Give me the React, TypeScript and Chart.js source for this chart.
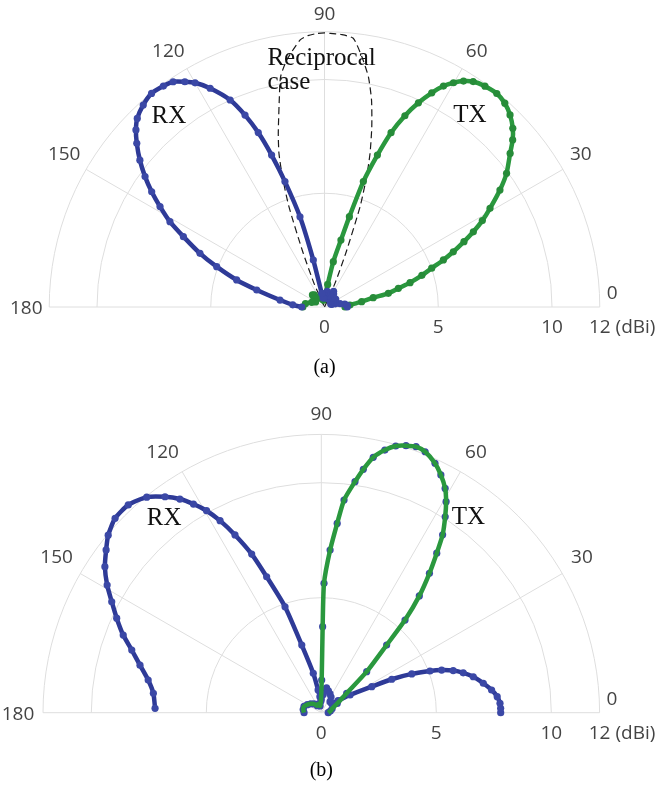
import React, { useEffect, useRef } from 'react';
import { Chart, registerables } from 'chart.js';

Chart.register(...registerables);

// ---------- data: (a) ----------
const rxA_angle = [0, 4, 8, 12, 16, 20, 25, 30, 35, 40, 45, 50, 55, 60, 65, 70, 75, 80, 85, 90, 95, 99, 101.5, 103.4, 105.2, 107.5, 109.2, 110.8, 112.5, 114.5, 117.6, 120.0, 121.8, 123.9, 126.1, 129.0, 131.9, 134.8, 136.8, 138.9, 141.5, 144.0, 146.3, 148.6, 151.1, 153.5, 156.7, 159.5, 162.9, 165.9, 171.1, 176, 180];
const rxA_gain = [1.0, 1.0, 0.9, 0.7, 0.5, 0.35, 0.3, 0.45, 0.6, 0.5, 0.35, 0.5, 0.7, 0.8, 0.6, 0.4, 0.5, 0.7, 0.6, 0.5, 0.4, 0.4, 0.61, 2.12, 4.11, 5.78, 7.07, 8.20, 9.13, 10.0, 10.85, 11.38, 11.65, 11.93, 12.02, 12.08, 11.93, 11.68, 11.37, 10.95, 10.37, 9.75, 9.13, 8.47, 7.76, 6.93, 5.96, 5.06, 4.04, 3.07, 1.98, 1.4, 1.0];

const txA_angle = [0, 4.5, 8.1, 10.8, 12.1, 14.2, 15.9, 18, 19.9, 21.6, 23.2, 25.1, 26.8, 28.7, 30.8, 33.7, 36.3, 39.6, 41.6, 43.5, 46.0, 48.5, 51.1, 54.0, 56.6, 58.4, 60.1, 61.7, 63.4, 65.3, 67.2, 69.1, 70.8, 72.8, 74.6, 76.2, 79.0, 82, 85, 90, 95, 100, 110, 120, 130, 135, 140, 150, 160, 170, 180];
const txA_gain = [0.9, 1.12, 1.65, 2.18, 2.87, 3.35, 3.91, 4.5, 5.01, 5.62, 6.16, 6.77, 7.33, 7.91, 8.47, 9.27, 9.93, 10.59, 11.06, 11.41, 11.74, 11.96, 12.06, 12.0, 11.87, 11.66, 11.37, 11.03, 10.53, 9.88, 9.12, 8.20, 7.07, 5.77, 4.12, 3.03, 2.03, 1.0, 0.6, 0.4, 0.35, 0.3, 0.4, 0.5, 0.7, 0.75, 0.6, 0.45, 0.6, 0.85, 0.95];

const recipA_angle = [66, 66, 68.5, 70.5, 72.1, 73.5, 75.3, 77.2, 79.2, 81.5, 83.9, 86.5, 88.8, 90, 91.5, 93.5, 95.2, 98.7, 100.8, 102.1, 104.9, 106.5, 107.9, 109.5, 111.5, 114, 114];
const recipA_gain = [0, 1.1, 2.6, 4.7, 6.02, 7.05, 8.19, 9.33, 10.3, 11.12, 11.88, 12.0, 12.03, 12.05, 12.03, 11.95, 11.79, 10.98, 10.3, 9.46, 7.9, 7.05, 6.02, 4.7, 2.6, 1.1, 0];

// ---------- data: (b) ----------
const rxB_angle = [0, 1.4, 3.0, 5.2, 7.6, 10.3, 13.3, 15.7, 17.7, 19.5, 21.0, 23.2, 25.4, 27.3, 31.7, 36, 42, 51.7, 58, 65, 72, 78, 84, 90, 95, 98, 101.5, 106.1, 108.9, 111.9, 113.7, 115.9, 117.8, 119.6, 121.5, 123.5, 125.9, 129.0, 132.9, 136.7, 140.2, 142.9, 146.0, 149.2, 152.1, 155.2, 158.6, 161.7, 165.3, 169.3, 173.4, 178.5];
const rxB_gain = [7.8, 7.8, 7.78, 7.68, 7.47, 7.16, 6.79, 6.41, 6.02, 5.55, 5.06, 4.28, 3.39, 2.47, 1.47, 0.9, 0.6, 0.61, 0.8, 0.9, 1.0, 1.1, 0.8, 0.6, 0.7, 1.0, 1.75, 3.06, 4.87, 6.37, 7.53, 8.59, 9.44, 10.1, 10.64, 11.14, 11.59, 12.06, 12.33, 12.32, 12.06, 11.73, 11.35, 10.84, 10.31, 9.80, 9.25, 8.68, 8.15, 7.66, 7.35, 7.23];

const txB_angle = [0, 10, 20, 30, 37.4, 42.1, 46.0, 47.9, 50.0, 52.2, 54.1, 55.7, 57.7, 59.4, 61.1, 63.3, 65.5, 68.3, 70.4, 72.4, 74.4, 76.4, 78.5, 80.2, 81.7, 83.9, 85.2, 86.9, 88.8, 89.1, 89.3, 92, 100, 110, 120, 130, 140, 150, 160, 170, 180];
const txB_gain = [0.3, 0.4, 0.5, 0.8, 1.39, 2.66, 4.09, 5.43, 6.63, 7.67, 8.56, 9.36, 10.08, 10.66, 11.14, 11.57, 11.92, 12.21, 12.28, 12.18, 12.04, 11.75, 11.33, 10.74, 10.15, 9.30, 8.26, 7.08, 5.63, 3.74, 1.42, 0.5, 0.3, 0.4, 0.35, 0.5, 0.6, 0.7, 0.8, 0.8, 0.75];

// ---------- axes ----------
const R_MAX = 12.1;
const RING_VALUES = [5, 10, R_MAX];
const RADIAL_TICKS = [0, 5, 10];
const RADIAL_OUTER_LABEL = '12 (dBi)';
const ANGLE_TICKS = [0, 30, 60, 90, 120, 150, 180];

const RX_LINE = '#2e3a97';
const RX_POINT = '#3b48a6';
const TX_LINE = '#2a983e';
const TX_POINT = '#278c39';
const GRID = '#dedede';
const TICK = '#444444';

const toPts = (ang: number[], gain: number[]) =>
  ang.map((a, i) => ({
    x: gain[i] * Math.cos((a * Math.PI) / 180),
    y: gain[i] * Math.sin((a * Math.PI) / 180),
  }));

const LABEL_NUDGE: Record<number, [number, number]> = {
  120: [-7, 3],
  60: [3, 3],
  150: [-2, -3],
  30: [-2, -3],
  180: [0, 2],
};

type Note = { text: string; x: number; y: number };

function makePlugin(notes: Note[], caption: string, captionDy: number, labelGap: number) {
  return {
    id: 'halfPolar',
    beforeDatasetsDraw(chart: any) {
      const ctx = chart.ctx as CanvasRenderingContext2D;
      const xs = chart.scales.x;
      const ys = chart.scales.y;
      const cx = xs.getPixelForValue(0);
      const cy = ys.getPixelForValue(0);
      const rp = (v: number) => xs.getPixelForValue(v) - cx;
      const R = rp(R_MAX);
      ctx.save();
      ctx.strokeStyle = GRID;
      ctx.lineWidth = 1;
      RING_VALUES.forEach((v) => {
        ctx.beginPath();
        ctx.arc(cx, cy, rp(v), Math.PI, 2 * Math.PI);
        ctx.stroke();
      });
      ctx.beginPath();
      ctx.moveTo(cx - R, cy);
      ctx.lineTo(cx + R, cy);
      ctx.stroke();
      ANGLE_TICKS.forEach((a) => {
        if (a === 0 || a === 180) return;
        const t = (a * Math.PI) / 180;
        ctx.beginPath();
        ctx.moveTo(cx, cy);
        ctx.lineTo(cx + R * Math.cos(t), cy - R * Math.sin(t));
        ctx.stroke();
      });
      ctx.fillStyle = TICK;
      ctx.font = '19px "Open Sans"';
      ctx.textBaseline = 'middle';
      ANGLE_TICKS.forEach((a) => {
        if (a === 0) {
          ctx.textAlign = 'left';
          ctx.fillText('0', cx + R + 7, cy - 13);
          return;
        }
        ctx.textAlign = 'center';
        const t = (a * Math.PI) / 180;
        const d = a === 90 ? labelGap - 5.5 : labelGap;
        const n = LABEL_NUDGE[a] || [0, 0];
        ctx.fillText(String(a), cx + (R + d) * Math.cos(t) + n[0], cy - (R + d) * Math.sin(t) + n[1]);
      });
      ctx.textAlign = 'center';
      RADIAL_TICKS.forEach((v) => {
        ctx.fillText(String(v), cx + rp(v), cy + 21);
      });
      const w12 = ctx.measureText('12').width;
      ctx.textAlign = 'left';
      ctx.fillText(RADIAL_OUTER_LABEL, cx + R - w12 / 2, cy + 21);
      ctx.restore();
    },
    afterDatasetsDraw(chart: any) {
      const ctx = chart.ctx as CanvasRenderingContext2D;
      const xs = chart.scales.x;
      const ys = chart.scales.y;
      ctx.save();
      ctx.fillStyle = '#111111';
      ctx.font = '25px "Liberation Serif", "Times New Roman", serif';
      ctx.textAlign = 'left';
      ctx.textBaseline = 'alphabetic';
      notes.forEach((n) => {
        ctx.fillText(n.text, xs.getPixelForValue(n.x), ys.getPixelForValue(n.y));
      });
      ctx.font = '20px "Liberation Serif", "Times New Roman", serif';
      ctx.textAlign = 'center';
      ctx.textBaseline = 'middle';
      ctx.fillStyle = '#000000';
      ctx.fillText(caption, xs.getPixelForValue(0), ys.getPixelForValue(0) + captionDy);
      ctx.restore();
    },
  };
}

const lineDs = (pts: any[], line: string, point: string, extra: any = {}) => ({
  data: pts,
  showLine: true,
  borderColor: line,
  borderWidth: 4.5,
  pointRadius: 3.6,
  pointBackgroundColor: point,
  pointBorderWidth: 0,
  pointHoverRadius: 0,
  tension: 0.2,
  clip: false,
  ...extra,
});

type PlotProps = {
  top: number;
  height: number;
  cx: number;
  cy: number;
  scale: number;
  datasets: any[];
  notes: Note[];
  caption: string;
  captionDy: number;
  labelGap: number;
};

function PolarPlot(p: PlotProps) {
  const ref = useRef<HTMLCanvasElement | null>(null);
  useEffect(() => {
    if (!ref.current) return;
    const Rpx = R_MAX * p.scale;
    const chart = new Chart(ref.current, {
      type: 'scatter',
      data: { datasets: p.datasets },
      options: {
        animation: false,
        responsive: false,
        maintainAspectRatio: false,
        devicePixelRatio: 1,
        events: [],
        layout: {
          padding: {
            left: p.cx - Rpx,
            right: 657 - (p.cx + Rpx),
            top: p.cy - Rpx,
            bottom: p.height - p.cy,
          },
        },
        plugins: { legend: { display: false }, tooltip: { enabled: false } },
        scales: {
          x: { type: 'linear', min: -R_MAX, max: R_MAX, display: false },
          y: { type: 'linear', min: 0, max: R_MAX, display: false },
        },
      } as any,
      plugins: [makePlugin(p.notes, p.caption, p.captionDy, p.labelGap)],
    });
    return () => chart.destroy();
  }, []);
  return (
    <canvas
      ref={ref}
      width={657}
      height={p.height}
      style={{ position: 'absolute', left: 0, top: p.top, width: 657, height: p.height, display: 'block' }}
    />
  );
}

export default function App() {
  const dsA = [
    lineDs(toPts(rxA_angle, rxA_gain), RX_LINE, RX_POINT),
    lineDs(toPts(txA_angle, txA_gain), TX_LINE, TX_POINT),
    {
      data: toPts(recipA_angle, recipA_gain),
      showLine: true,
      borderColor: '#1a1a1a',
      borderWidth: 1.2,
      borderDash: [7, 4],
      pointRadius: 0,
      tension: 0.2,
      clip: false,
    },
  ];
  const dsB = [
    lineDs(toPts(txB_angle, txB_gain), TX_LINE, TX_LINE, { pointRadius: 0 }),
    lineDs(toPts(txB_angle, txB_gain), 'rgba(0,0,0,0)', RX_POINT, { showLine: false, pointRadius: 3.6 }),
    lineDs(toPts(rxB_angle, rxB_gain), RX_LINE, RX_POINT),
  ];
  const notesA: Note[] = [
    { text: 'RX', x: -7.6, y: 8.1 },
    { text: 'TX', x: 5.66, y: 8.15 },
    { text: 'Reciprocal', x: -2.51, y: 10.64 },
    { text: 'case', x: -2.51, y: 9.58 },
  ];
  const notesB: Note[] = [
    { text: 'RX', x: -7.59, y: 8.16 },
    { text: 'TX', x: 5.67, y: 8.2 },
  ];
  return (
    <div style={{ position: 'absolute', left: 0, top: 0, width: 657, height: 793, background: '#ffffff', overflow: 'hidden' }}>
      <PolarPlot top={0} height={395} cx={324.5} cy={307} scale={22.75} datasets={dsA} notes={notesA} caption="(a)" captionDy={61} labelGap={23} />
      <PolarPlot top={395} height={398} cx={321.3} cy={317.7} scale={23} datasets={dsB} notes={notesB} caption="(b)" captionDy={58} labelGap={25} />
    </div>
  );
}
